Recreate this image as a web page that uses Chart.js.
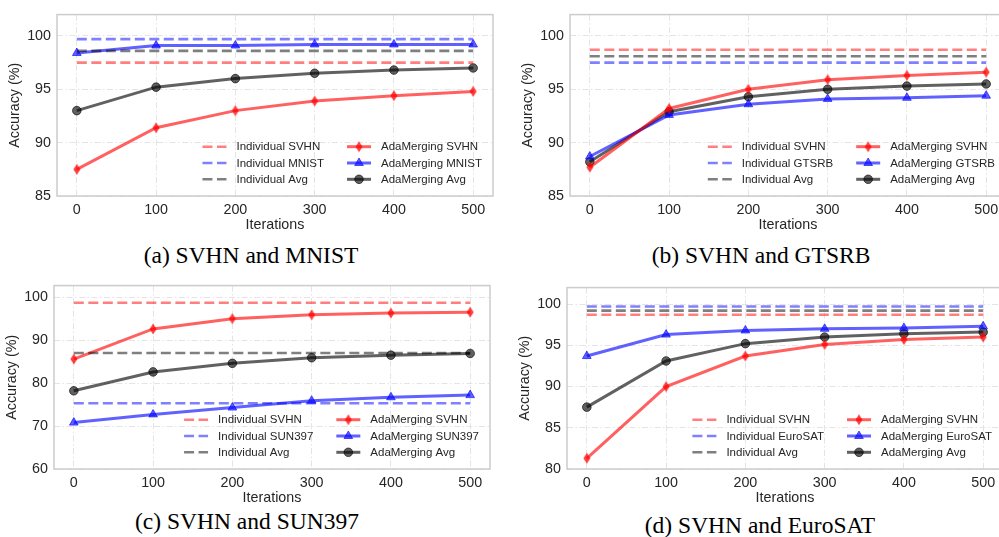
<!DOCTYPE html>
<html>
<head>
<meta charset="utf-8">
<script src="https://cdn.jsdelivr.net/npm/chart.js@4.4.0/dist/chart.umd.min.js"></script>
<style>
  html, body { margin: 0; padding: 0; background: #fff; overflow: hidden; }
  #wrap { position: relative; width: 999px; height: 537px; overflow: hidden; background: #fff; }
  #wrap canvas { position: absolute; }
  .cap { position: absolute; width: 400px; text-align: center; white-space: nowrap;
         font-family: "Liberation Serif", "Times New Roman", serif; font-size: 23.5px; line-height: 23px; color: #000; }
</style>
</head>
<body>
<div id="wrap">
  <canvas id="chartA" width="499" height="234" style="left:0px;top:0px"></canvas>
  <canvas id="chartB" width="499" height="234" style="left:513px;top:0px"></canvas>
  <canvas id="chartC" width="499" height="236" style="left:-3px;top:271px"></canvas>
  <canvas id="chartD" width="499" height="234" style="left:510px;top:273px"></canvas>
  <div class="cap" style="left:51px;top:244px">(a) SVHN and MNIST</div>
  <div class="cap" style="left:561px;top:244px">(b) SVHN and GTSRB</div>
  <div class="cap" style="left:47px;top:510px">(c) SVHN and SUN397</div>
  <div class="cap" style="left:560px;top:514px">(d) SVHN and EuroSAT</div>
</div>
<script>
const iterations = [0, 100, 200, 300, 400, 500];
const xTicks = [0, 100, 200, 300, 400, 500];

// (a) SVHN and MNIST
const indivSvhnA  = [97.5, 97.5, 97.5, 97.5, 97.5, 97.5];
const indivMnistA = [99.7, 99.7, 99.7, 99.7, 99.7, 99.7];
const indivAvgA   = [98.6, 98.6, 98.6, 98.6, 98.6, 98.6];
const adaSvhnA  = [87.5, 91.4, 93.0, 93.9, 94.4, 94.8];
const adaMnistA = [98.4, 99.1, 99.1, 99.2, 99.2, 99.2];
const adaAvgA   = [93.0, 95.2, 96.0, 96.5, 96.8, 97.0];
const yTicksA = [85, 90, 95, 100];

// (b) SVHN and GTSRB
const indivSvhnB  = [98.7, 98.7, 98.7, 98.7, 98.7, 98.7];
const indivGtsrbB = [97.5, 97.5, 97.5, 97.5, 97.5, 97.5];
const indivAvgB   = [98.1, 98.1, 98.1, 98.1, 98.1, 98.1];
const adaSvhnB  = [87.7, 93.2, 95.0, 95.9, 96.3, 96.6];
const adaGtsrbB = [88.7, 92.6, 93.6, 94.1, 94.2, 94.4];
const adaAvgB   = [88.2, 92.9, 94.3, 95.0, 95.3, 95.5];
const yTicksB = [85, 90, 95, 100];

// (c) SVHN and SUN397
const indivSvhnC = [98.7, 98.7, 98.7, 98.7, 98.7, 98.7];
const indivSunC  = [75.3, 75.3, 75.3, 75.3, 75.3, 75.3];
const indivAvgC  = [87.0, 87.0, 87.0, 87.0, 87.0, 87.0];
const adaSvhnC = [85.6, 92.6, 95.0, 95.9, 96.3, 96.5];
const adaSunC  = [70.8, 72.7, 74.3, 75.9, 76.7, 77.2];
const adaAvgC  = [78.2, 82.6, 84.6, 85.9, 86.5, 86.9];
const yTicksC = [60, 70, 80, 90, 100];

// (d) SVHN and EuroSAT
const indivSvhnD = [98.7, 98.7, 98.7, 98.7, 98.7, 98.7];
const indivEuroD = [99.7, 99.7, 99.7, 99.7, 99.7, 99.7];
const indivAvgD  = [99.2, 99.2, 99.2, 99.2, 99.2, 99.2];
const adaSvhnD = [81.3, 90.0, 93.7, 95.1, 95.7, 96.0];
const adaEuroD = [93.7, 96.3, 96.8, 97.0, 97.1, 97.3];
const adaAvgD  = [87.5, 93.1, 95.2, 96.0, 96.4, 96.6];
const yTicksD = [80, 85, 90, 95, 100];

const SANS = '"Liberation Sans", Arial, sans-serif';
const TEXT = '#262626';

// thin diamond marker like matplotlib 'd'
function thinDiamond(color) {
  const c = document.createElement('canvas');
  c.width = 8; c.height = 12;
  const g = c.getContext('2d');
  g.fillStyle = color;
  g.beginPath();
  g.moveTo(4, 0.5); g.lineTo(7.5, 6); g.lineTo(4, 11.5); g.lineTo(0.5, 6);
  g.closePath();
  g.fill();
  return c;
}

const RED_D = 'rgba(255,0,0,0.5)', BLUE_D = 'rgba(0,0,255,0.5)', GRAY_D = 'rgba(0,0,0,0.5)';
const RED = 'rgba(255,0,0,0.62)', BLUE = 'rgba(0,0,255,0.62)', BLACK = 'rgba(0,0,0,0.62)';
const diamondImg = thinDiamond('rgba(255,0,0,0.75)');

const pts = arr => iterations.map((it, i) => ({ x: it, y: arr[i] }));

function dashed(label, arr, color) {
  return { label, data: pts(arr), borderColor: color, borderWidth: 2.6, borderDash: [10, 4.5],
           pointRadius: 0, fill: false, tension: 0 };
}
function solid(label, arr, color, style) {
  const isImg = style === 'diamond';
  return { label, data: pts(arr), borderColor: color, backgroundColor: color, borderWidth: 3,
           pointStyle: isImg ? diamondImg : style, pointRadius: style === 'triangle' ? 5 : 4.3,
           pointBackgroundColor: color, pointBorderColor: color, pointBorderWidth: 1,
           fill: false, tension: 0 };
}

const framePlugin = {
  id: 'frame',
  beforeDatasetsDraw(chart) {
    const { ctx, chartArea: a } = chart;
    ctx.save();
    ctx.strokeStyle = '#cccccc';
    ctx.lineWidth = 1.5;
    ctx.strokeRect(a.left, a.top, a.right - a.left, a.bottom - a.top);
    ctx.restore();
  }
};

const legendPlugin = {
  id: 'innerLegend',
  afterDatasetsDraw(chart) {
    const { ctx, chartArea: a } = chart;
    const ds = chart.data.datasets;
    ctx.save();
    ctx.font = '11.5px ' + SANS;
    ctx.textBaseline = 'middle';
    const cols = [[0, 1, 2], [3, 4, 5]];
    const sampleW = 24, gap = 10, colGap = 23, rowH = 16.3;
    const widths = cols.map(c => Math.max(...c.map(i => ctx.measureText(ds[i].label).width)));
    const x2 = a.right - 11 - widths[1] - gap - sampleW;
    const x1 = x2 - colGap - widths[0] - gap - sampleW;
    const y0 = a.bottom - 16.7 - 2 * rowH;
    cols.forEach((c, ci) => {
      const x = ci === 0 ? x1 : x2;
      c.forEach((i, ri) => {
        const d = ds[i];
        const y = y0 + ri * rowH;
        ctx.save();
        ctx.strokeStyle = d.borderColor;
        ctx.lineWidth = d.borderWidth;
        ctx.setLineDash(d.borderDash || []);
        ctx.beginPath();
        ctx.moveTo(x, y); ctx.lineTo(x + sampleW, y);
        ctx.stroke();
        ctx.restore();
        if (d.pointRadius > 0) {
          ctx.save();
          ctx.fillStyle = d.pointBackgroundColor;
          ctx.strokeStyle = d.pointBorderColor;
          ctx.lineWidth = 1;
          Chart.helpers.drawPoint(ctx, { pointStyle: d.pointStyle, radius: d.pointRadius, rotation: 0, borderWidth: 1 },
                                  x + sampleW / 2, y);
          ctx.restore();
        }
        ctx.fillStyle = TEXT;
        ctx.fillText(d.label, x + sampleW + gap, y + 0.5);
      });
    });
    ctx.restore();
  }
};

function makePanel(id, datasets, yMin, yMax, yTicks) {
  new Chart(document.getElementById(id), {
    type: 'line',
    data: { datasets },
    plugins: [framePlugin, legendPlugin],
    options: {
      responsive: false,
      animation: false,
      events: [],
      layout: { padding: { top: 6, right: 4, left: 0, bottom: 0 } },
      plugins: { legend: { display: false }, tooltip: { enabled: false } },
      scales: {
        x: {
          type: 'linear', min: -25, max: 525,
          afterBuildTicks: s => { s.ticks = xTicks.map(v => ({ value: v })); },
          afterFit: s => { s.height = 38; },
          grid: { color: '#e4e4e4', lineWidth: 1, drawTicks: false },
          border: { display: false, dash: [6, 2.5, 1.5, 2.5] },
          ticks: { padding: 5, color: TEXT, font: { size: 14.3, family: SANS }, maxRotation: 0 },
          title: { display: true, text: 'Iterations', color: TEXT, font: { size: 14.3, family: SANS },
                   padding: { top: 0, bottom: 0 } }
        },
        y: {
          type: 'linear', min: yMin, max: yMax,
          afterBuildTicks: s => { s.ticks = yTicks.map(v => ({ value: v })); },
          afterFit: s => { s.width = 57; },
          grid: { color: '#e4e4e4', lineWidth: 1, drawTicks: false },
          border: { display: false, dash: [6, 2.5, 1.5, 2.5] },
          ticks: { padding: 6, color: TEXT, font: { size: 14.3, family: SANS } },
          title: { display: true, text: 'Accuracy (%)', color: TEXT, font: { size: 14.3, family: SANS },
                   padding: { top: 6.4, bottom: 0 } }
        }
      }
    }
  });
}

makePanel('chartA', [
  dashed('Individual SVHN', indivSvhnA, RED_D),
  dashed('Individual MNIST', indivMnistA, BLUE_D),
  dashed('Individual Avg', indivAvgA, GRAY_D),
  solid('AdaMerging SVHN', adaSvhnA, RED, 'diamond'),
  solid('AdaMerging MNIST', adaMnistA, BLUE, 'triangle'),
  solid('AdaMerging Avg', adaAvgA, BLACK, 'circle')
], 85, 102, yTicksA);

makePanel('chartB', [
  dashed('Individual SVHN', indivSvhnB, RED_D),
  dashed('Individual GTSRB', indivGtsrbB, BLUE_D),
  dashed('Individual Avg', indivAvgB, GRAY_D),
  solid('AdaMerging SVHN', adaSvhnB, RED, 'diamond'),
  solid('AdaMerging GTSRB', adaGtsrbB, BLUE, 'triangle'),
  solid('AdaMerging Avg', adaAvgB, BLACK, 'circle')
], 85, 102, yTicksB);

makePanel('chartC', [
  dashed('Individual SVHN', indivSvhnC, RED_D),
  dashed('Individual SUN397', indivSunC, BLUE_D),
  dashed('Individual Avg', indivAvgC, GRAY_D),
  solid('AdaMerging SVHN', adaSvhnC, RED, 'diamond'),
  solid('AdaMerging SUN397', adaSunC, BLUE, 'triangle'),
  solid('AdaMerging Avg', adaAvgC, BLACK, 'circle')
], 60, 102.7, yTicksC);

makePanel('chartD', [
  dashed('Individual SVHN', indivSvhnD, RED_D),
  dashed('Individual EuroSAT', indivEuroD, BLUE_D),
  dashed('Individual Avg', indivAvgD, GRAY_D),
  solid('AdaMerging SVHN', adaSvhnD, RED, 'diamond'),
  solid('AdaMerging EuroSAT', adaEuroD, BLUE, 'triangle'),
  solid('AdaMerging Avg', adaAvgD, BLACK, 'circle')
], 80, 102, yTicksD);
</script>
</body>
</html>
